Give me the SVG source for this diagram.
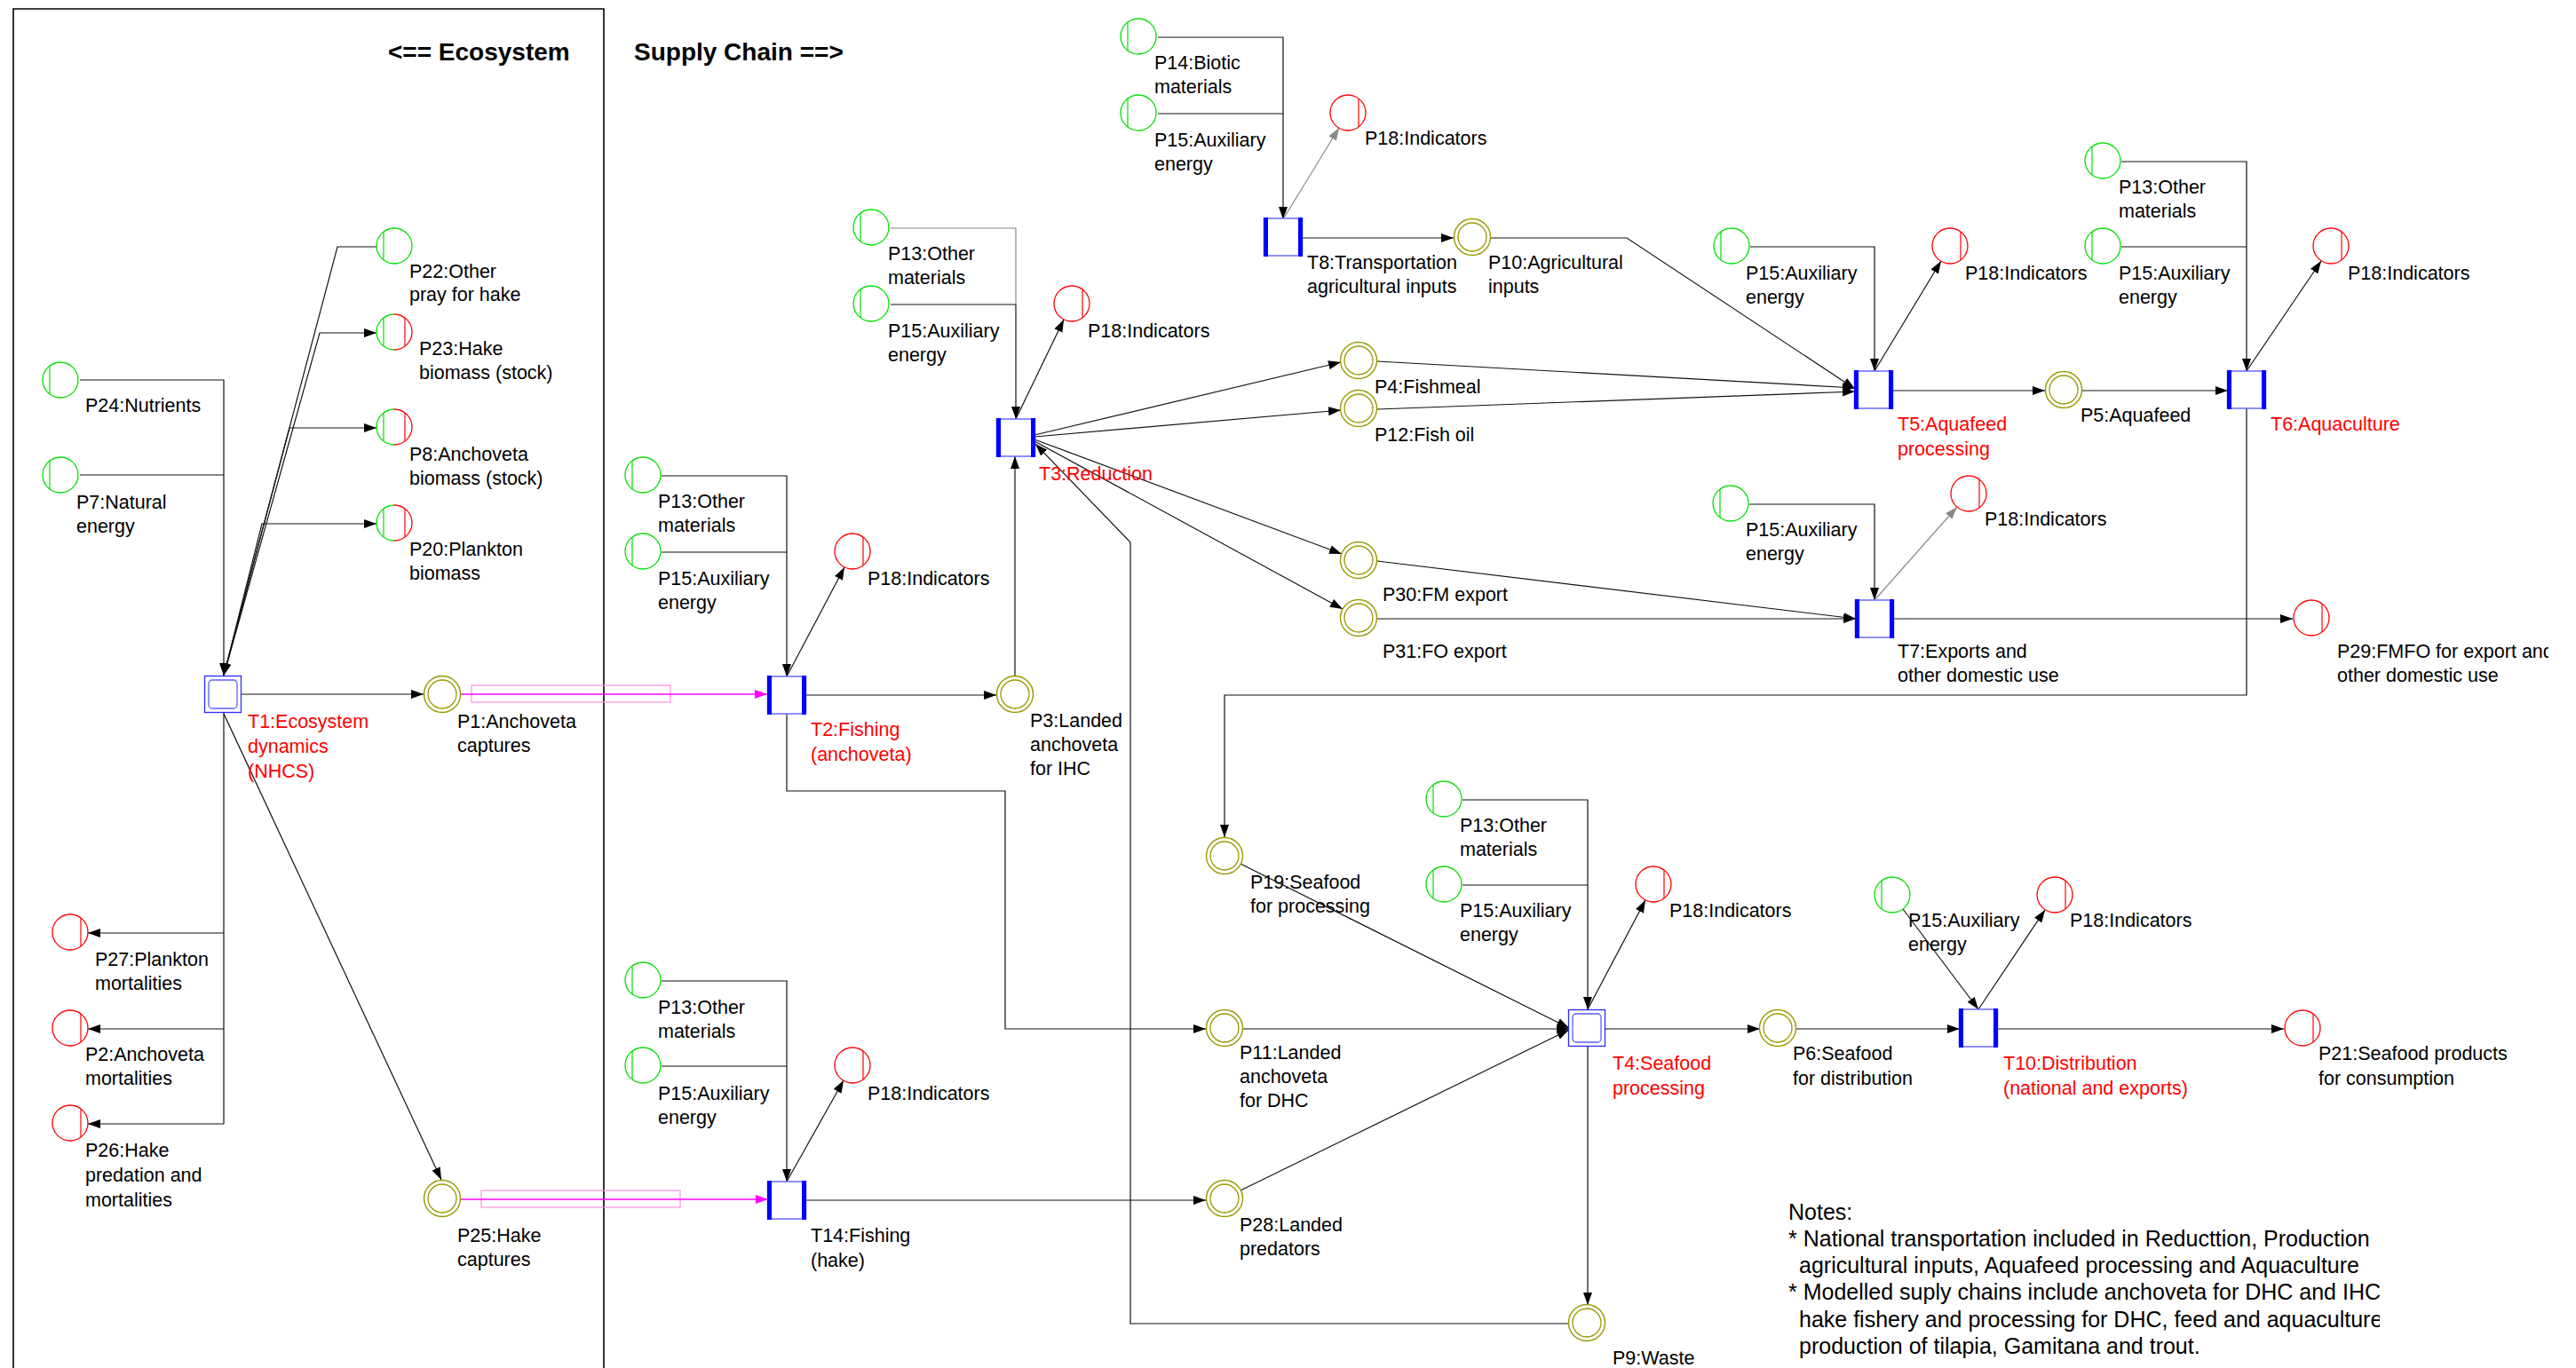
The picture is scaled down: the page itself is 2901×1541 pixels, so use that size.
<svg xmlns="http://www.w3.org/2000/svg" width="2901" height="1541" viewBox="0 0 2901 1541">
<style>
text{font-family:"Liberation Sans",Arial,sans-serif;font-size:21.5px;fill:#000}
.t{fill:#f00}
.h{font-weight:bold;font-size:28px}
.n{font-size:25px}
.e{fill:none;stroke:#111;stroke-width:1.2}
.gr{stroke:#8a8a8a}
.mg{fill:none;stroke:#ff00ff;stroke-width:1.4}
.pk{fill:none;stroke:#ff8ee0;stroke-width:1.2}
</style>
<defs>
<marker id="a" markerUnits="userSpaceOnUse" markerWidth="14" markerHeight="10" refX="14" refY="5" orient="auto"><path d="M0,0L14,5L0,10z" fill="#000"/></marker>
<marker id="ag" markerUnits="userSpaceOnUse" markerWidth="14" markerHeight="10" refX="14" refY="5" orient="auto"><path d="M0,0L14,5L0,10z" fill="#8a8a8a"/></marker>
<marker id="am" markerUnits="userSpaceOnUse" markerWidth="14" markerHeight="10" refX="14" refY="5" orient="auto"><path d="M0,0L14,5L0,10z" fill="#ff00ff"/></marker>
<g id="src"><circle r="20" fill="#fff" stroke="#00e000" stroke-width="1.3"/><line x1="-12" y1="-16" x2="-12" y2="16" stroke="#00e000" stroke-width="1.2"/></g>
<g id="snk"><circle r="20" fill="#fff" stroke="#ff0000" stroke-width="1.3"/><line x1="12" y1="-16" x2="12" y2="16" stroke="#ff0000" stroke-width="1.2"/></g>
<g id="bio"><circle r="20" fill="#fff"/><path d="M0,-20A20,20 0 0 0 0,20" fill="none" stroke="#00e000" stroke-width="1.3"/><path d="M0,-20A20,20 0 0 1 0,20" fill="none" stroke="#ff0000" stroke-width="1.3"/><line x1="-12" y1="-16" x2="-12" y2="16" stroke="#00e000" stroke-width="1.2"/><line x1="12" y1="-16" x2="12" y2="16" stroke="#ff0000" stroke-width="1.2"/></g>
<g id="mid"><circle r="20.5" fill="#fff" stroke="#999900" stroke-width="1.4"/><circle r="16" fill="none" stroke="#999900" stroke-width="1.3"/></g>
<g id="tr"><rect x="-21.5" y="-21" width="43" height="42" fill="#fff" stroke="#6a6aff" stroke-width="1.5"/><rect x="-22" y="-22" width="5" height="44" fill="#0000ff"/><rect x="17" y="-22" width="5" height="44" fill="#0000ff"/></g>
<g id="tr2"><rect x="-20.5" y="-20.5" width="41" height="41" fill="#fff" stroke="#2a2aff" stroke-width="1.3"/><rect x="-16" y="-16" width="32" height="32" rx="4" fill="none" stroke="#5c5cff" stroke-width="1.3"/></g>
<clipPath id="c29"><rect x="2500" y="650" width="370" height="150"/></clipPath>
<clipPath id="cn"><rect x="1990" y="1340" width="690" height="201"/></clipPath>
</defs>
<rect width="2901" height="1541" fill="#fff"/>

<g id="frame"><path d="M15,1541V10H680V1541" fill="none" stroke="#000" stroke-width="1.6"/></g>
<g id="titles">
<text class="h" x="437" y="68">&lt;== Ecosystem</text>
<text class="h" x="714" y="68">Supply Chain ==&gt;</text>
</g>

<g id="connectors">
<path class="e" d="M90,428H252V761" marker-end="url(#a)"/>
<path class="e" d="M90,535H252"/>
<path class="e" d="M424,278H380L252,761" marker-end="url(#a)"/>
<path class="e" d="M252,761L360,375H424" marker-end="url(#a)"/>
<path class="e" d="M252,761L326,482H424" marker-end="url(#a)"/>
<path class="e" d="M252,761L295,590H424" marker-end="url(#a)"/>
<path class="e" d="M271,782H477" marker-end="url(#a)"/>
<path class="e" d="M252,802V1266"/>
<path class="e" d="M252,1051H99" marker-end="url(#a)"/>
<path class="e" d="M252,1159H99" marker-end="url(#a)"/>
<path class="e" d="M252,1266H99" marker-end="url(#a)"/>
<path class="e" d="M252,804L497,1329" marker-end="url(#a)"/>
<rect class="pk" x="531" y="772" width="224" height="19"/>
<path class="mg" d="M519,782H864" marker-end="url(#am)"/>
<rect class="pk" x="542" y="1341" width="224" height="19"/>
<path class="mg" d="M519,1351H865" marker-end="url(#am)"/>
<path class="e" d="M745,536H886V762" marker-end="url(#a)"/>
<path class="e" d="M745,622H886"/>
<path class="e" d="M886,762L951,639" marker-end="url(#a)"/>
<path class="e" d="M907,783H1122" marker-end="url(#a)"/>
<path class="e" d="M1143,762V514" marker-end="url(#a)"/>
<path class="e" d="M886,804V891H1132V1159H1358" marker-end="url(#a)"/>
<path class="e gr" d="M1003,257H1144V342"/>
<path class="e" d="M1003,343H1144V472" marker-end="url(#a)"/>
<path class="e" d="M1144,472L1198,360" marker-end="url(#a)"/>
<path class="e" d="M1165,490L1510,408" marker-end="url(#a)"/>
<path class="e" d="M1165,492L1510,462" marker-end="url(#a)"/>
<path class="e" d="M1165,495L1511,624" marker-end="url(#a)"/>
<path class="e" d="M1165,497L1512,686" marker-end="url(#a)"/>
<path class="e" d="M1767,1491H1273V611L1166,500" marker-end="url(#a)"/>
<path class="e" d="M1304,42H1445V247" marker-end="url(#a)"/>
<path class="e" d="M1304,128H1445"/>
<path class="e gr" d="M1445,247L1508,144" marker-end="url(#ag)"/>
<path class="e" d="M1467,268H1637" marker-end="url(#a)"/>
<path class="e" d="M1679,268H1832L2089,438" marker-end="url(#a)"/>
<path class="e" d="M1551,407L2089,437" marker-end="url(#a)"/>
<path class="e" d="M1551,461L2089,441" marker-end="url(#a)"/>
<path class="e" d="M1971,278H2111V418" marker-end="url(#a)"/>
<path class="e" d="M2111,418L2186,294" marker-end="url(#a)"/>
<path class="e" d="M2132,440H2303" marker-end="url(#a)"/>
<path class="e" d="M2345,440H2509" marker-end="url(#a)"/>
<path class="e" d="M2389,182H2530V418" marker-end="url(#a)"/>
<path class="e" d="M2389,278H2530"/>
<path class="e" d="M2530,418L2614,294" marker-end="url(#a)"/>
<path class="e" d="M2530,460V783H1379V943" marker-end="url(#a)"/>
<path class="e" d="M1551,632L2090,697" marker-end="url(#a)"/>
<path class="e" d="M1551,697H2090" marker-end="url(#a)"/>
<path class="e" d="M1970,568H2111V676" marker-end="url(#a)"/>
<path class="e gr" d="M2111,676L2204,571" marker-end="url(#ag)"/>
<path class="e" d="M2132,697H2582" marker-end="url(#a)"/>
<path class="e" d="M1397,973L1767,1158" marker-end="url(#a)"/>
<path class="e" d="M1400,1159H1767" marker-end="url(#a)"/>
<path class="e" d="M1397,1341L1767,1160" marker-end="url(#a)"/>
<path class="e" d="M1647,901H1788V1137" marker-end="url(#a)"/>
<path class="e" d="M1647,997H1788"/>
<path class="e" d="M1788,1137L1853,1014" marker-end="url(#a)"/>
<path class="e" d="M1808,1159H1982" marker-end="url(#a)"/>
<path class="e" d="M1788,1179V1470" marker-end="url(#a)"/>
<path class="e" d="M745,1105H886V1331" marker-end="url(#a)"/>
<path class="e" d="M745,1201H886"/>
<path class="e" d="M886,1331L950,1217" marker-end="url(#a)"/>
<path class="e" d="M907,1352H1358" marker-end="url(#a)"/>
<path class="e" d="M2023,1159H2207" marker-end="url(#a)"/>
<path class="e" d="M2143,1024L2228,1137" marker-end="url(#a)"/>
<path class="e" d="M2228,1137L2303,1025" marker-end="url(#a)"/>
<path class="e" d="M2250,1159H2572" marker-end="url(#a)"/>
</g>

<g id="P24"><use href="#src" x="68" y="428"/><text x="96" y="464">P24:Nutrients</text></g>
<g id="P7"><use href="#src" x="68" y="535"/><text x="86" y="573">P7:Natural<tspan x="86" dy="27">energy</tspan></text></g>
<g id="P22"><use href="#src" x="444" y="277"/><text x="461" y="313">P22:Other<tspan x="461" dy="26">pray for hake</tspan></text></g>
<g id="P23"><use href="#bio" x="444" y="374"/><text x="472" y="400">P23:Hake<tspan x="472" dy="27">biomass (stock)</tspan></text></g>
<g id="P8"><use href="#bio" x="444" y="481"/><text x="461" y="519">P8:Anchoveta<tspan x="461" dy="27">biomass (stock)</tspan></text></g>
<g id="P20"><use href="#bio" x="444" y="589"/><text x="461" y="626">P20:Plankton<tspan x="461" dy="27">biomass</tspan></text></g>
<g id="T1"><use href="#tr2" x="251" y="782"/><text class="t" x="279" y="820">T1:Ecosystem<tspan x="279" dy="28">dynamics</tspan><tspan x="279" dy="28">(NHCS)</tspan></text></g>
<g id="P1"><use href="#mid" x="498" y="782"/><text x="515" y="820">P1:Anchoveta<tspan x="515" dy="27">captures</tspan></text></g>
<g id="P27"><use href="#snk" x="79" y="1050"/><text x="107" y="1088">P27:Plankton<tspan x="107" dy="27">mortalities</tspan></text></g>
<g id="P2"><use href="#snk" x="79" y="1158"/><text x="96" y="1195">P2:Anchoveta<tspan x="96" dy="27">mortalities</tspan></text></g>
<g id="P26"><use href="#snk" x="79" y="1265"/><text x="96" y="1303">P26:Hake<tspan x="96" dy="28">predation and</tspan><tspan x="96" dy="28">mortalities</tspan></text></g>
<g id="P25"><use href="#mid" x="498" y="1350"/><text x="515" y="1399">P25:Hake<tspan x="515" dy="27">captures</tspan></text></g>

<g id="T2"><use href="#tr" x="886" y="783"/><text class="t" x="913" y="829">T2:Fishing<tspan x="913" dy="28">(anchoveta)</tspan></text></g>
<g id="P13-T2"><use href="#src" x="724" y="535"/><text x="741" y="572">P13:Other<tspan x="741" dy="27">materials</tspan></text></g>
<g id="P15-T2"><use href="#src" x="724" y="621"/><text x="741" y="659">P15:Auxiliary<tspan x="741" dy="27">energy</tspan></text></g>
<g id="P18-T2"><use href="#snk" x="960" y="621"/><text x="977" y="659">P18:Indicators</text></g>
<g id="P3"><use href="#mid" x="1143" y="782"/><text x="1160" y="819">P3:Landed<tspan x="1160" dy="27">anchoveta</tspan><tspan x="1160" dy="27">for IHC</tspan></text></g>
<g id="T3"><use href="#tr" x="1144" y="493"/><text class="t" x="1170" y="541">T3:Reduction</text></g>
<g id="P13-T3"><use href="#src" x="981" y="256"/><text x="1000" y="293">P13:Other<tspan x="1000" dy="27">materials</tspan></text></g>
<g id="P15-T3"><use href="#src" x="981" y="342"/><text x="1000" y="380">P15:Auxiliary<tspan x="1000" dy="27">energy</tspan></text></g>
<g id="P18-T3"><use href="#snk" x="1207" y="342"/><text x="1225" y="380">P18:Indicators</text></g>
<g id="T8"><use href="#tr" x="1445" y="267"/><text x="1472" y="303">T8:Transportation<tspan x="1472" dy="27">agricultural inputs</tspan></text></g>
<g id="P14"><use href="#src" x="1282" y="41"/><text x="1300" y="78">P14:Biotic<tspan x="1300" dy="27">materials</tspan></text></g>
<g id="P15-T8"><use href="#src" x="1282" y="127"/><text x="1300" y="165">P15:Auxiliary<tspan x="1300" dy="27">energy</tspan></text></g>
<g id="P18-T8"><use href="#snk" x="1518" y="127"/><text x="1537" y="163">P18:Indicators</text></g>
<g id="P10"><use href="#mid" x="1658" y="267"/><text x="1676" y="303">P10:Agricultural<tspan x="1676" dy="27">inputs</tspan></text></g>
<g id="P4"><use href="#mid" x="1530" y="406"/><text x="1548" y="443">P4:Fishmeal</text></g>
<g id="P12"><use href="#mid" x="1530" y="460"/><text x="1548" y="497">P12:Fish oil</text></g>
<g id="T5"><use href="#tr" x="2110" y="439"/><text class="t" x="2137" y="485">T5:Aquafeed<tspan x="2137" dy="28">processing</tspan></text></g>
<g id="P15-T5"><use href="#src" x="1950" y="277"/><text x="1966" y="315">P15:Auxiliary<tspan x="1966" dy="27">energy</tspan></text></g>
<g id="P18-T5"><use href="#snk" x="2196" y="277"/><text x="2213" y="315">P18:Indicators</text></g>
<g id="P5"><use href="#mid" x="2324" y="439"/><text x="2343" y="475">P5:Aquafeed</text></g>
<g id="T6"><use href="#tr" x="2530" y="439"/><text class="t" x="2557" y="485">T6:Aquaculture</text></g>
<g id="P13-T6"><use href="#src" x="2368" y="181"/><text x="2386" y="218">P13:Other<tspan x="2386" dy="27">materials</tspan></text></g>
<g id="P15-T6"><use href="#src" x="2368" y="277"/><text x="2386" y="315">P15:Auxiliary<tspan x="2386" dy="27">energy</tspan></text></g>
<g id="P18-T6"><use href="#snk" x="2625" y="277"/><text x="2644" y="315">P18:Indicators</text></g>
<g id="P30"><use href="#mid" x="1530" y="631"/><text x="1557" y="677">P30:FM export</text></g>
<g id="P31"><use href="#mid" x="1530" y="696"/><text x="1557" y="741">P31:FO export</text></g>
<g id="T7"><use href="#tr" x="2111" y="697"/><text x="2137" y="741">T7:Exports and<tspan x="2137" dy="27">other domestic use</tspan></text></g>
<g id="P15-T7"><use href="#src" x="1949" y="567"/><text x="1966" y="604">P15:Auxiliary<tspan x="1966" dy="27">energy</tspan></text></g>
<g id="P18-T7"><use href="#snk" x="2217" y="556"/><text x="2235" y="592">P18:Indicators</text></g>
<g id="P29"><use href="#snk" x="2603" y="696"/><text x="2632" y="741" clip-path="url(#c29)">P29:FMFO for export and<tspan x="2632" dy="27">other domestic use</tspan></text></g>
<g id="P19"><use href="#mid" x="1379" y="964"/><text x="1408" y="1001">P19:Seafood<tspan x="1408" dy="27">for processing</tspan></text></g>
<g id="P11"><use href="#mid" x="1379" y="1158"/><text x="1396" y="1193">P11:Landed<tspan x="1396" dy="27">anchoveta</tspan><tspan x="1396" dy="27">for DHC</tspan></text></g>
<g id="P28"><use href="#mid" x="1379" y="1350"/><text x="1396" y="1387">P28:Landed<tspan x="1396" dy="27">predators</tspan></text></g>
<g id="T14"><use href="#tr" x="886" y="1352"/><text x="913" y="1399">T14:Fishing<tspan x="913" dy="28">(hake)</tspan></text></g>
<g id="P13-T14"><use href="#src" x="724" y="1104"/><text x="741" y="1142">P13:Other<tspan x="741" dy="27">materials</tspan></text></g>
<g id="P15-T14"><use href="#src" x="724" y="1200"/><text x="741" y="1239">P15:Auxiliary<tspan x="741" dy="27">energy</tspan></text></g>
<g id="P18-T14"><use href="#snk" x="960" y="1200"/><text x="977" y="1239">P18:Indicators</text></g>
<g id="T4"><use href="#tr2" x="1787" y="1158"/><text class="t" x="1816" y="1205">T4:Seafood<tspan x="1816" dy="28">processing</tspan></text></g>
<g id="P13-T4"><use href="#src" x="1626" y="900"/><text x="1644" y="937">P13:Other<tspan x="1644" dy="27">materials</tspan></text></g>
<g id="P15-T4"><use href="#src" x="1626" y="996"/><text x="1644" y="1033">P15:Auxiliary<tspan x="1644" dy="27">energy</tspan></text></g>
<g id="P18-T4"><use href="#snk" x="1862" y="996"/><text x="1880" y="1033">P18:Indicators</text></g>
<g id="P6"><use href="#mid" x="2002" y="1158"/><text x="2019" y="1194">P6:Seafood<tspan x="2019" dy="28">for distribution</tspan></text></g>
<g id="P9"><use href="#mid" x="1787" y="1490"/><text x="1816" y="1537">P9:Waste</text></g>
<g id="T10"><use href="#tr" x="2228" y="1158"/><text class="t" x="2256" y="1205">T10:Distribution<tspan x="2256" dy="28">(national and exports)</tspan></text></g>
<g id="P15-T10"><use href="#src" x="2131" y="1008"/><text x="2149" y="1044">P15:Auxiliary<tspan x="2149" dy="27">energy</tspan></text></g>
<g id="P18-T10"><use href="#snk" x="2314" y="1008"/><text x="2331" y="1044">P18:Indicators</text></g>
<g id="P21"><use href="#snk" x="2593" y="1158"/><text x="2611" y="1194">P21:Seafood products<tspan x="2611" dy="28">for consumption</tspan></text></g>

<g id="notes" clip-path="url(#cn)">
<text class="n" x="2014" y="1374">Notes:</text>
<text class="n" x="2014" y="1404">* National transportation included in Reducttion, Production</text>
<text class="n" x="2026" y="1434">agricultural inputs, Aquafeed processing and Aquaculture</text>
<text class="n" x="2014" y="1464">* Modelled suply chains include anchoveta for DHC and IHC,</text>
<text class="n" x="2026" y="1495">hake fishery and processing for DHC, feed and aquaculture</text>
<text class="n" x="2026" y="1525">production of tilapia, Gamitana and trout.</text>
</g>
</svg>
